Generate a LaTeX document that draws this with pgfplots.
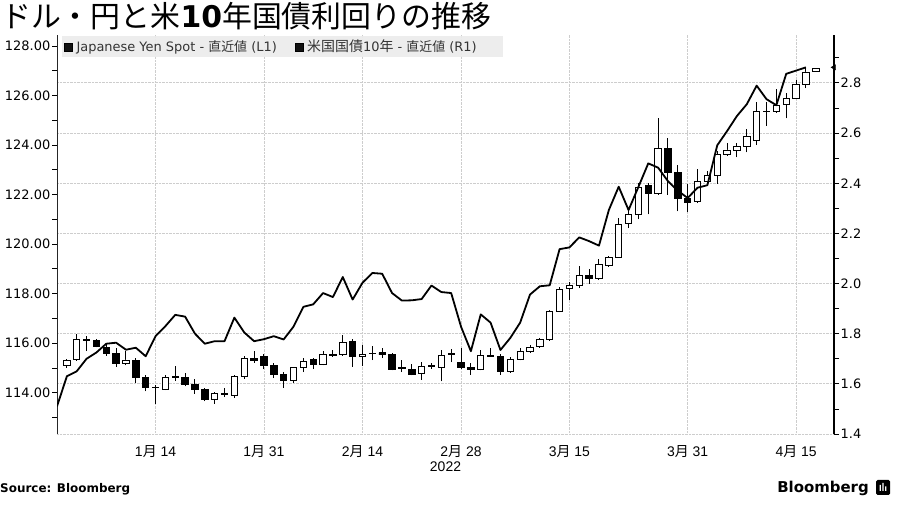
\documentclass[border=0pt]{standalone}
\usepackage{fontspec}
\usepackage{pgfplots}
\usepackage{pgfplotstable}
\pgfplotsset{compat=1.18}
\setmainfont{DejaVu Sans}
\newfontfamily\cjk{Noto Sans CJK JP}
\newfontfamily\libsans{Liberation Sans}
\definecolor{gridc}{RGB}{205,205,205}
\definecolor{legbg}{RGB}{236,236,236}

\pgfplotstableread{
i O H L C
0 115.08 115.38 115.00 115.30
1 115.35 116.35 115.28 116.15
2 116.12 116.30 115.68 116.13
3 116.10 116.15 115.83 115.85
4 115.84 115.95 115.50 115.58
5 115.60 115.80 115.05 115.20
6 115.20 115.70 115.10 115.32
7 115.30 115.40 114.40 114.62
8 114.62 114.70 114.05 114.22
9 114.20 114.33 113.56 114.22
10 114.15 114.70 114.10 114.62
11 114.62 115.07 114.47 114.64
12 114.62 114.81 114.25 114.32
13 114.34 114.55 113.96 114.15
14 114.12 114.20 113.65 113.72
15 113.72 114.02 113.55 113.98
16 113.95 114.20 113.82 113.92
17 113.88 114.72 113.80 114.65
18 114.65 115.47 114.56 115.40
19 115.40 115.67 115.20 115.32
20 115.45 115.55 114.94 115.12
21 115.10 115.20 114.60 114.72
22 114.72 114.82 114.20 114.48
23 114.48 115.05 114.40 115.00
24 115.00 115.42 114.83 115.25
25 115.35 115.42 114.95 115.15
26 115.15 115.68 115.10 115.55
27 115.55 115.72 115.45 115.50
28 115.55 116.31 115.50 116.02
29 116.05 116.15 115.05 115.45
30 115.48 115.94 115.07 115.56
31 115.60 115.88 115.31 115.58
32 115.62 115.80 115.40 115.53
33 115.55 115.60 114.90 114.95
34 114.98 115.34 114.83 115.02
35 114.95 115.14 114.70 114.75
36 114.76 115.23 114.53 115.07
37 115.05 115.18 114.96 115.08
38 115.03 115.71 114.46 115.50
39 115.55 115.77 115.23 115.57
40 115.22 115.81 114.94 115.00
41 115.00 115.20 114.73 114.95
42 114.95 115.74 114.90 115.52
43 115.50 115.81 115.45 115.48
44 115.48 115.55 114.73 114.85
45 114.85 115.45 114.80 115.33
46 115.33 115.80 115.30 115.67
47 115.68 115.94 115.60 115.84
48 115.85 116.20 115.82 116.15
49 116.15 117.35 116.10 117.30
50 117.30 118.25 117.25 118.18
51 118.19 118.46 117.76 118.32
52 118.32 119.13 118.23 118.73
53 118.75 119.00 118.40 118.62
54 118.60 119.40 118.55 119.17
55 119.12 119.50 119.08 119.45
56 119.48 121.05 119.45 120.80
57 120.82 121.40 120.65 121.18
58 121.20 122.45 121.00 122.30
59 122.35 122.45 121.20 122.05
60 122.05 125.08 122.00 123.85
61 123.85 124.28 122.00 122.90
62 122.88 123.20 121.32 121.83
63 121.85 122.44 121.28 121.70
64 121.72 123.03 121.65 122.52
65 122.53 122.96 122.45 122.78
66 122.78 123.74 122.44 123.60
67 123.60 124.08 123.55 123.80
68 123.80 124.08 123.50 123.95
69 123.95 124.64 123.70 124.34
70 124.20 125.75 124.00 125.35
71 125.37 125.75 124.77 125.35
72 125.35 126.25 125.30 125.60
73 125.62 126.09 125.08 125.88
74 125.87 126.63 125.85 126.43
75 126.45 127.10 126.30 126.95
76 126.96 127.12 126.95 127.10
}\candles

\pgfplotstableread{
i y
-1 1.51
0 1.63
1 1.65
2 1.70
3 1.725
4 1.76
5 1.764
6 1.736
7 1.744
8 1.71
9 1.79
10 1.83
11 1.875
12 1.868
13 1.80
14 1.76
15 1.77
16 1.77
17 1.864
18 1.805
19 1.77
20 1.778
21 1.79
22 1.777
23 1.828
24 1.907
25 1.917
26 1.962
27 1.946
28 2.026
29 1.936
30 2.003
31 2.042
32 2.039
33 1.962
34 1.932
35 1.933
36 1.938
37 1.992
38 1.966
39 1.962
40 1.828
41 1.73
42 1.877
43 1.844
44 1.735
45 1.783
46 1.844
47 1.956
48 1.989
49 1.993
50 2.137
51 2.144
52 2.184
53 2.169
54 2.151
55 2.293
56 2.386
57 2.293
58 2.385
59 2.479
60 2.462
61 2.408
62 2.37
63 2.341
64 2.382
65 2.392
66 2.551
67 2.608
68 2.668
69 2.715
70 2.789
71 2.735
72 2.711
73 2.836
75 2.862
}\yield

\pgfplotsset{
  base/.style={scale only axis, width=777bp, height=399bp,
    at={(57bp,71bp)}, anchor=south west, xmin=-1, xmax=77.85},
}

\begin{document}
\begin{tikzpicture}[x=1bp,y=1bp]
\path[use as bounding box] (0,0) rectangle (900,505);

% right scale: horizontal grid, right axis
\begin{axis}[base, ymin=1.4, ymax=2.991,
  axis x line=none, axis y line*=right,
  y axis line style={black, line width=1.4bp},
  ytick={1.4,1.6,1.8,2.0,2.2,2.4,2.6,2.8},
  yticklabels={1.4,1.6,1.8,2.0,2.2,2.4,2.6,2.8},
  minor ytick={1.5,1.7,1.9,2.1,2.3,2.5,2.7,2.9},
  ymajorgrids, major grid style={gridc, densely dotted, line width=0.8bp},
  tick align=outside, major tick length=5bp, minor tick length=5bp,
  ytick style={black, line width=0.8bp},
  yticklabel style={font=\fontsize{13}{15}\selectfont, inner sep=1.5bp},
]
\addplot[draw=none, forget plot] coordinates {(0,2)};
\end{axis}

% left scale: x ticks, vertical grid, wicks
\begin{axis}[base, ymin=112.332, ymax=128.444,
  axis y line*=left, axis x line*=bottom,
  x axis line style={draw=none},
  y axis line style={black!85, line width=0.7bp},
  xtick={9,20,30,40,51,63,74},
  xticklabels={1{\cjk 月} 14,1{\cjk 月} 31,2{\cjk 月} 14,2{\cjk 月} 28,3{\cjk 月} 15,3{\cjk 月} 31,4{\cjk 月} 15},
  xmajorgrids, major grid style={gridc, densely dotted, line width=0.8bp},
  xtick style={draw=none},
  xticklabel style={font=\libsans\fontsize{14}{16}\selectfont, yshift=-3bp},
  xlabel={2022}, xlabel style={font=\libsans\fontsize{14}{16}\selectfont, yshift=0bp, inner sep=1bp},
  ytick={114,116,118,120,122,124,126,128},
  yticklabels={114.00,116.00,118.00,120.00,122.00,124.00,126.00,128.00},
  minor ytick={113,115,117,119,121,123,125,127},
  tick align=outside, major tick length=5bp, minor tick length=5bp,
  ytick style={black, line width=0.8bp},
  yticklabel style={font=\fontsize{13}{15}\selectfont, inner sep=1.5bp},
]
\addplot[forget plot, draw=none, mark=none,
  error bars/.cd, y dir=plus, y explicit, error mark=none,
  error bar style={draw=black, line width=1bp}]
  table[x=i, y=L, y error expr=\thisrow{H}-\thisrow{L}] {\candles};
\end{axis}

% candle bodies
\begin{axis}[base, ymin=112.332, ymax=128.444, hide axis,
  ybar stacked, bar width=6.4bp]
\addplot[draw=none, fill=none, forget plot]
  table[x=i, y expr={min(\thisrow{O},\thisrow{C})}] {\candles};
\addplot[draw=black, fill=white, line width=0.9bp, forget plot]
  table[x=i, y expr={\thisrow{C}<\thisrow{O} ? 0 : \thisrow{C}-\thisrow{O}}] {\candles};
\addplot[draw=black, fill=black, line width=0.9bp, forget plot]
  table[x=i, y expr={\thisrow{C}<\thisrow{O} ? \thisrow{O}-\thisrow{C} : 0}] {\candles};
\end{axis}

% yield line and legend
\begin{axis}[base, ymin=1.4, ymax=2.991, hide axis, clip mode=individual,
  legend columns=2,
  legend style={at={(0.0064,0.9975)}, anchor=north west, draw=none,
    fill=legbg, fill opacity=0.92, text opacity=1,
    font=\fontsize{13}{15}\selectfont, text=black!80,
    inner xsep=2bp, inner ysep=2bp,
    /tikz/every even column/.append style={column sep=16bp}},
  legend image code/.code={\fill[black] (0bp,-4bp) rectangle (8bp,4bp);},
]
\addlegendimage{black}
\addlegendentry{\hspace{2bp}Japanese Yen Spot - {\cjk 直近値} (L1)}
\addlegendimage{black}
\addlegendentry{\hspace{2bp}{\cjk\fontsize{14}{15}\selectfont 米国国債}10{\cjk\fontsize{14}{15}\selectfont 年} - {\cjk 直近値} (R1)\rule{22bp}{0bp}}
\addplot[black, line width=1.8bp, line join=round, forget plot]
  table[x=i, y=y] {\yield};
\addplot[only marks, mark=triangle*, mark size=3bp, clip=false,
  every mark/.append style={rotate=90, fill=black, draw=black}, forget plot]
  coordinates {(77.85,2.862)};
\end{axis}

% title
\node[anchor=base west, inner sep=0] at (1,477)
  {\fontsize{30}{30}\selectfont\cjk ドル・円と米{\normalfont\bfseries 10}年国債利回りの推移};
% footer
\node[anchor=west, inner sep=0] at (0,16)
  {\fontsize{12}{14}\selectfont\bfseries Source: Bloomberg};
\node[anchor=east, inner sep=0] at (869,17)
  {\fontsize{15}{17}\selectfont\bfseries Bloomberg};
\fill[black, rounded corners=1.5bp] (876,10) rectangle (890,25);
\fill[white] (879.5,14) rectangle (880.8,20) (882.3,14) rectangle (883.6,22) (885.1,14) rectangle (886.4,18.5);
\end{tikzpicture}
\end{document}
